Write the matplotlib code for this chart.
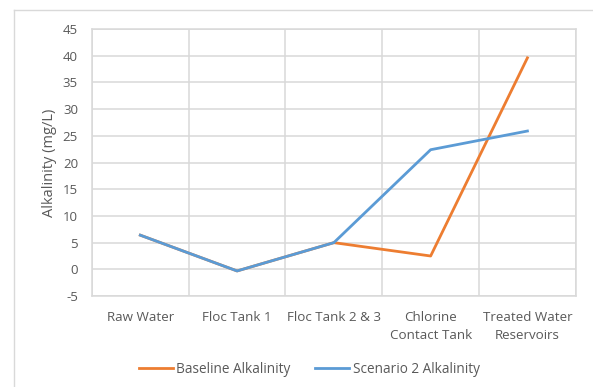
import matplotlib.pyplot as plt
from matplotlib.lines import Line2D

stages = ['Raw Water', 'Floc Tank 1', 'Floc Tank 2 & 3',
          'Chlorine\nContact Tank', 'Treated Water\nReservoirs']
baseline = [6.4, -0.3, 5.0, 2.5, 39.6]
scenario2 = [6.4, -0.3, 5.0, 22.4, 25.9]
yticks = [-5, 0, 5, 10, 15, 20, 25, 30, 35, 40, 45]

plt.rcParams['font.family'] = ['Open Sans', 'DejaVu Sans']
text_col = '#595959'
grid_col = '#d9d9d9'

fig = plt.figure(figsize=(5.93, 3.87), dpi=100)
ax = fig.add_axes([0.155, 0.235, 0.816, 0.69])

x = list(range(len(stages)))
ax.plot(x, baseline, color='#ED7D31', lw=2, label='Baseline Alkalinity', zorder=3)
ax.plot(x, scenario2, color='#5B9BD5', lw=2, label='Scenario 2 Alkalinity', zorder=4)

ax.set_xlim(-0.5, len(stages) - 0.5)
ax.set_ylim(-5, 45)
ax.set_yticks(yticks)
ax.set_yticklabels([str(v) for v in yticks])
ax.set_xticks(x)
ax.set_xticklabels(stages, linespacing=1.45)
ax.set_xticks([i + 0.5 for i in range(-1, len(stages))], minor=True)

ax.grid(True, which='major', axis='y', color=grid_col, lw=1.1)
ax.grid(True, which='minor', axis='x', color=grid_col, lw=1.1)
ax.tick_params(which='both', length=0)
ax.tick_params(axis='y', labelsize=9.5, colors=text_col, pad=10)
ax.tick_params(axis='x', labelsize=9.6, colors=text_col, pad=11)
for s in ax.spines.values():
    s.set_color(grid_col)
    s.set_linewidth(1.1)
ax.set_axisbelow(True)

ax.set_ylabel('Alkalinity (mg/L)', fontsize=10.5, color=text_col, labelpad=4)

ax.legend(loc='center', bbox_to_anchor=(0.449, -0.275), ncol=2, frameon=False,
          fontsize=9.8, labelcolor=text_col, handlelength=2.5, handletextpad=0.25,
          columnspacing=1.8)

# outer chart border
fig.add_artist(Line2D([13.5 / 593, 13.5 / 593], [0, 1 - 10 / 387],
                      transform=fig.transFigure, color=grid_col, lw=1))
fig.add_artist(Line2D([13.5 / 593, 1], [1 - 10 / 387, 1 - 10 / 387],
                      transform=fig.transFigure, color=grid_col, lw=1))

fig.savefig('out.png', dpi=100)
